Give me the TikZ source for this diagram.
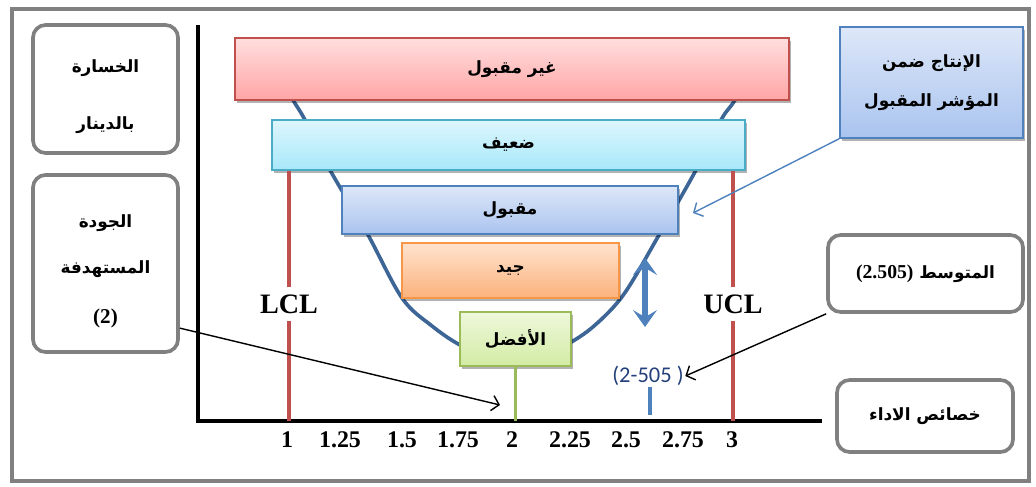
\documentclass[tikz,border=0pt]{standalone}
\usepackage{fontspec}
\setmainfont{Liberation Serif}
\newfontfamily\arabicfont[Script=Arabic]{DejaVu Sans}
\newfontfamily\calfont{Carlito}
\TeXXeTstate=1
\usetikzlibrary{shadows}
\usetikzlibrary{arrows.meta,shapes}
\usetikzlibrary{calc}

\definecolor{redtop}{HTML}{FFDEDE}
\definecolor{redbot}{HTML}{FFA5A5}
\definecolor{redbrd}{HTML}{C0504D}
\definecolor{cyantop}{HTML}{DDF6FD}
\definecolor{cyanbot}{HTML}{A8E8FA}
\definecolor{cyanbrd}{HTML}{4BACC6}
\definecolor{bluetop}{HTML}{DDE7F8}
\definecolor{bluebot}{HTML}{AAC4EF}
\definecolor{bluebrd}{HTML}{4F81BD}
\definecolor{orgtop}{HTML}{FFE3CE}
\definecolor{orgbot}{HTML}{FBB27C}
\definecolor{orgbrd}{HTML}{F79646}
\definecolor{grntop}{HTML}{EFF8DC}
\definecolor{grnbot}{HTML}{D2EBA4}
\definecolor{grnbrd}{HTML}{9BBB59}
\definecolor{curveblue}{HTML}{3D6596}
\definecolor{navy}{HTML}{23407A}

\tikzstyle{band} = [rectangle,draw,line width=0.9pt,inner sep=0pt,font=\arabicfont\bfseries\fontsize{12}{14}\selectfont,drop shadow={shadow xshift=1.2pt,shadow yshift=-1.8pt,opacity=0.3,fill=black}]
\tikzstyle{rbox} = [rectangle,draw=gray,line width=2.6pt,rounded corners=9pt,fill=white,inner sep=0pt,align=center,font=\arabicfont\bfseries\fontsize{12}{14}\selectfont]
\tikzstyle{limit} = [draw,line width=3.5pt,redbrd]
\tikzstyle{axis} = [draw,line width=2.8pt,black]
\tikzstyle{curve} = [draw,line width=2.6pt,curveblue]
\tikzstyle{tick} = [font=\bfseries\fontsize{17}{17}\selectfont]
\tikzstyle{ctl} = [font=\bfseries\fontsize{20}{20}\selectfont,inner sep=5pt]
\tikzstyle{edge} = [draw,line width=1pt,-{Straight Barb[length=5pt,width=11pt]}]
\tikzstyle{spread} = [draw,line width=4pt,bluebrd,{Stealth[length=12pt,width=17pt,inset=5pt]}-{Stealth[length=12pt,width=17pt,inset=5pt]}]

\begin{document}
\begin{tikzpicture}[x=0.025cm,y=-0.025cm]
\useasboundingbox (0,0) rectangle (1036,486);

% frame
\draw[gray,line width=3pt] (12,9) rectangle (1029,481);

% axes
\coordinate (ytop) at (198,25);
\coordinate (O) at (198,421);
\coordinate (xend) at (822,421);
\draw[axis] (ytop) -- (O) -- (xend);

% loss curve
\draw[curve] plot[smooth,tension=0.55] coordinates {(270,60) (293,100) (305,120) (330,170) (367,233) (402,298) (432,326) (460,345) (488,356) (513,359) (538,356) (566,345) (594,326) (624,294) (659,235) (696,170) (721,120) (735,100) (758,60)};

%bands
\foreach \pos/\name/\w/\h/\tc/\bc/\bd/\txt in {{(512,69)/reject/13.85/1.55/redtop/redbot/redbrd/غير مقبول},
  {(508.5,145)/weak/11.825/1.25/cyantop/cyanbot/cyanbrd/ضعيف},
  {(510,210)/accept/8.4/1.2/bluetop/bluebot/bluebrd/مقبول},
  {(510.5,270.5)/good/5.425/1.375/orgtop/orgbot/orgbrd/جيد},
  {(515.5,339)/best/2.775/1.35/grntop/grnbot/grnbrd/الأفضل}}
    \node[band,minimum width=\w cm,minimum height=\h cm,top color=\tc,bottom color=\bc,draw=\bd] (\name) at \pos {\beginR \txt\endR};

% LCL / UCL
\node[ctl] (lcl) at (289,304) {LCL};
\node[ctl] (ucl) at (733,304) {UCL};
\draw[limit] (lcl.north) -- (lcl.north |- weak.south);
\draw[limit] (lcl.south) -- (lcl.south |- O);
\draw[limit] (ucl.north) -- (ucl.north |- weak.south);
\draw[limit] (ucl.south) -- (ucl.south |- O);

% target and mean
\draw[draw=grnbrd,line width=2.8pt] (best.south) -- (best.south |- O);
\node[font=\calfont\fontsize{16}{18}\selectfont,text=navy,inner sep=1pt] (meanlab) at (648,376) {(2-505 )};
\coordinate (meanbot) at (650,415);
\draw[draw=bluebrd,line width=3.5pt] (meanbot) -- (meanbot |- meanlab.south);
\coordinate (dtop) at (645,258);
\coordinate (dbot) at (645,327);
\draw[spread] (dtop) -- (dbot);

% x labels
\foreach \x/\lab [count=\i] in {287/1,340/1.25,402/1.5,458/1.75,512/2,570/2.25,626/2.5,683/2.75,732/3}
    \node[tick] (tk\i) at (\x,440) {\lab};

% side boxes
\node[rbox,minimum width=3.625cm,minimum height=3.2cm] (loss) at (105.5,89) {\rule{0pt}{20pt}\beginR الخسارة\endR\\[26pt]\beginR بالدينار\endR};
\node[rbox,minimum width=3.625cm,minimum height=4.425cm] (target) at (105.5,263.5) {\rule{0pt}{20pt}\beginR الجودة\endR\\[19pt]\beginR المستهدفة\endR\\[21pt]{\rmfamily\fontsize{15}{17}\selectfont (2)}};
\node[band,align=center,top color=bluetop,bottom color=bluebot,draw=bluebrd,minimum width=4.575cm,minimum height=2.775cm] (inrange) at (931.5,82.5) {\beginR الإنتاج ضمن\endR\\[14pt]\beginR المؤشر المقبول\endR};
\node[rbox,minimum width=4.875cm,minimum height=1.925cm] (mean) at (925.5,273.5) {{\rmfamily\fontsize{14}{16}\selectfont (2.505)} \beginR المتوسط\endR};
\node[rbox,minimum width=4.4cm,minimum height=1.8cm] (perf) at (925,416) {\beginR خصائص الاداء\endR};

% arrows
\coordinate (aim) at (500,405);
\coordinate (accpt) at (693,213);
\draw[edge,draw=bluebrd] (inrange.south west) -- (accpt);
\draw[edge] (target.-41) -- (aim);
\draw[edge] (mean.south west) -- (meanlab.east);

\end{tikzpicture}
\end{document}
